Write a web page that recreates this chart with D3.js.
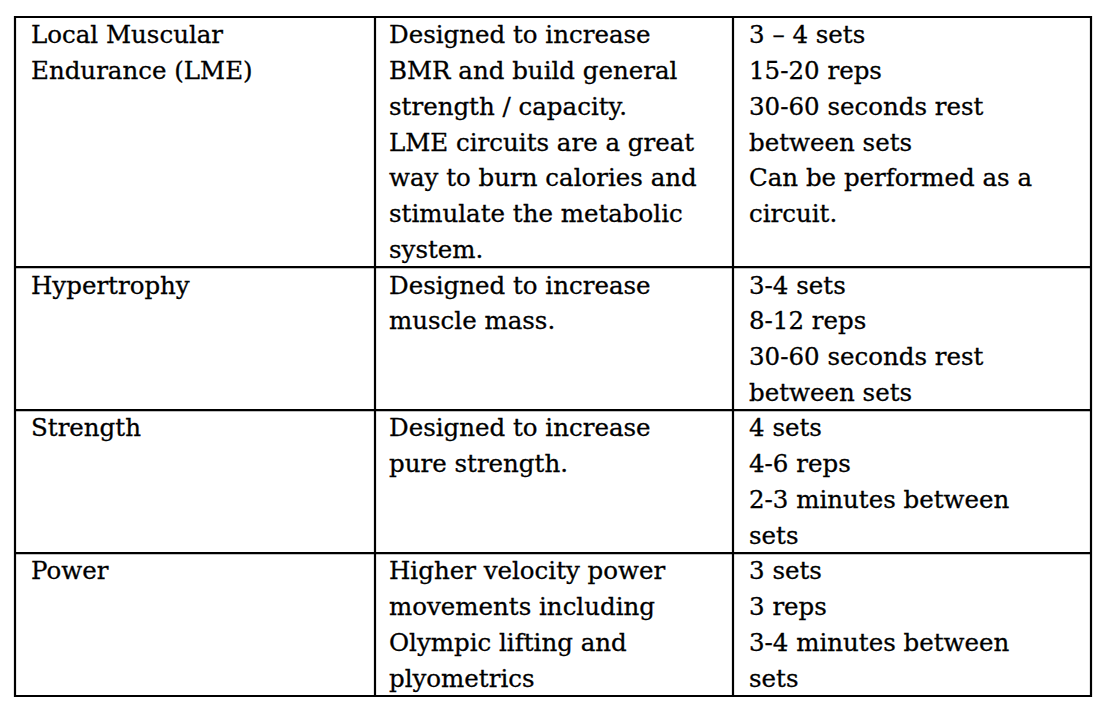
<!DOCTYPE html>
<html><head><meta charset="utf-8">
<script src="https://cdn.jsdelivr.net/npm/d3@7"></script>
<style>html,body{margin:0;padding:0;background:#fff;}svg{display:block;}</style>
</head><body>
<script>
const categories = [["Local Muscular","Endurance (LME)"],["Hypertrophy"],["Strength"],["Power"]];
const descriptions = [
  ["Designed to increase","BMR and build general","strength / capacity.","LME circuits are a great","way to burn calories and","stimulate the metabolic","system."],
  ["Designed to increase","muscle mass."],
  ["Designed to increase","pure strength."],
  ["Higher velocity power","movements including","Olympic lifting and","plyometrics"]
];
const prescriptions = [
  ["3 \u2013 4 sets","15-20 reps","30-60 seconds rest","between sets","Can be performed as a","circuit."],
  ["3-4 sets","8-12 reps","30-60 seconds rest","between sets"],
  ["4 sets","4-6 reps","2-3 minutes between","sets"],
  ["3 sets","3 reps","3-4 minutes between","sets"]
];
const columns = [categories, descriptions, prescriptions];

const W = 1104, H = 712;
const svg = d3.select("body").append("svg").attr("width", W).attr("height", H);

const rowLines = categories.map((c,i)=>Math.max(c.length, descriptions[i].length, prescriptions[i].length));
const cum = [0]; rowLines.forEach(n=>cum.push(cum[cum.length-1]+n));
const y = d3.scaleLinear().domain([0, cum[cum.length-1]]).range([17, 696]);
const colEdges = [15, 375, 733, 1091];
const textPad = [16, 14, 16];

const g = svg.append("g");
columns.forEach((col, ci) => {
  col.forEach((lines, ri) => {
    g.selectAll(null).data(lines).enter().append("text")
      .attr("x", colEdges[ci] + textPad[ci])
      .attr("y", (d,li) => y(cum[ri] + li + 0.5) + 8.5)
      .attr("font-family", "DejaVu Serif")
      .attr("font-size", 24.5)
      .attr("fill", "#000")
      .attr("stroke", "#000")
      .attr("stroke-width", 0.3)
      .text(d => d);
  });
});
const lines = svg.append("g").attr("stroke", "#000").attr("stroke-width", 2.2);
cum.forEach(c => lines.append("line").attr("x1", colEdges[0]-1).attr("x2", colEdges[3]+1).attr("y1", y(c)).attr("y2", y(c)));
colEdges.forEach(cx => lines.append("line").attr("x1", cx).attr("x2", cx).attr("y1", y(0)-1).attr("y2", y(cum[cum.length-1])+1));
</script>
</body></html>
